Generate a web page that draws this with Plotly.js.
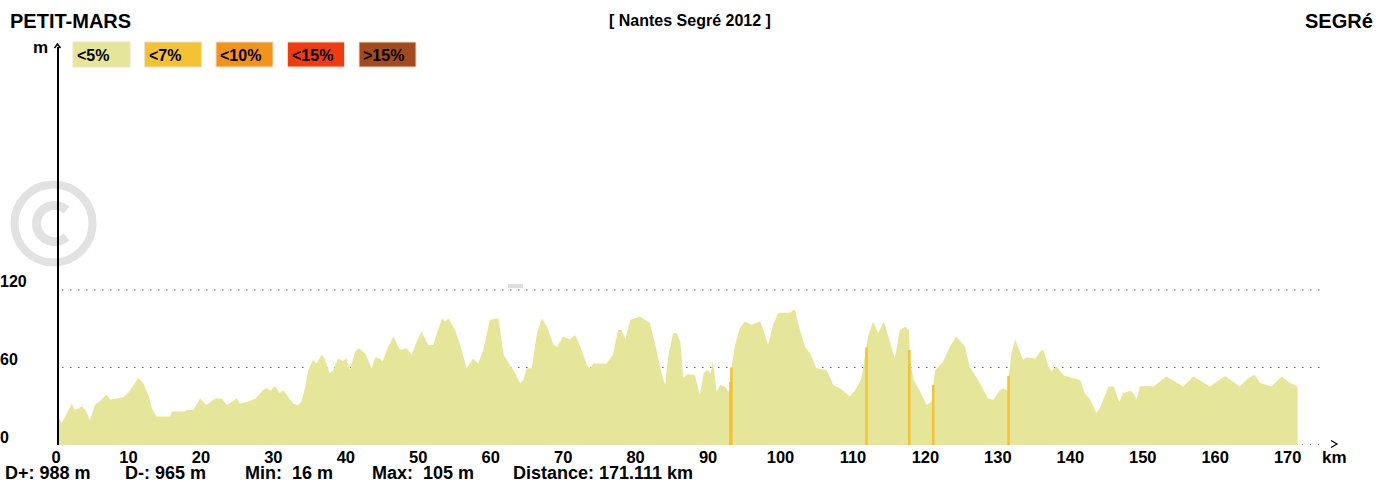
<!DOCTYPE html>
<html>
<head>
<meta charset="utf-8">
<script src="https://cdn.plot.ly/plotly-3.0.1.min.js"></script>
<style>html,body{margin:0;padding:0;background:#fff;}#chart{width:1391px;height:482px;}</style>
</head>
<body>
<div id="chart"></div>
<script>
// ---- data ----
const distKm = [0.0,0.5,1.0,1.9,2.3,2.8,3.3,3.8,4.4,5.1,5.8,6.7,7.2,8.0,9.0,9.8,10.5,11.1,11.8,12.5,13.0,13.6,15.5,15.7,17.5,17.8,18.7,19.6,20.5,21.7,22.6,23.3,24.7,25.1,26.3,27.3,28.3,28.8,29.3,29.95,30.6,31.1,31.8,32.5,33.2,33.6,34.1,34.5,35.2,35.7,36.4,36.8,37.5,38.0,38.7,39.3,39.8,40.3,41.0,41.5,42.4,43.3,43.8,44.4,44.8,45.5,46.3,47.2,48.1,48.8,49.5,50.2,51.1,51.8,52.3,53.0,53.4,53.9,54.8,55.5,56.4,57.3,58.0,58.7,59.6,60.8,61.5,62.4,63.1,63.8,64.2,64.7,65.4,66.1,66.8,67.5,68.4,68.9,69.7,70.1,70.6,71.4,72.0,73.0,73.4,73.9,75.7,76.6,77.3,77.8,78.3,79.0,80.3,81.7,82.4,83.3,83.8,84.2,84.9,85.4,85.9,86.3,86.9,87.9,88.6,89.1,89.6,90.1,90.4,90.9,91.4,92.1,92.7,92.85,93.0,93.4,94.1,94.8,95.7,96.9,97.3,98.0,98.7,99.4,101.0,101.7,102.2,103.1,103.8,104.7,106.1,107.0,107.9,109.3,110.2,110.9,111.6,111.8,112.5,113.2,114.0,114.8,115.5,116.2,116.9,117.45,117.6,118.1,119.0,119.9,120.6,120.8,121.1,122.2,123.1,124.0,125.2,125.8,127.0,128.4,129.1,130.0,130.6,131.0,131.25,131.6,132.1,132.8,133.2,133.7,134.9,135.5,136.0,136.7,137.1,137.8,138.8,140.1,141.1,141.7,142.4,143.3,143.8,145.0,145.7,146.5,147.0,148.0,148.4,148.9,149.3,150.2,151.2,153.0,155.3,156.7,159.0,161.1,163.1,164.3,165.2,165.9,167.5,168.9,169.8,171.1];
const elevM = [22,17,22,32,27,28,30,27,19,31,34,39,35,36,37,41,47,52,47.5,38,28,22,22,26,26,27,27,36,31,36,36,31,36,32,33.6,36,42.6,44,42,45.5,40.3,42.6,37,32,31,33.6,44,57,66,63,70,67,55.6,58,67,65,67,58,72,75,71,59.3,68,67,64.6,75,84,73.6,75,69.8,80,87.8,77.5,77.5,86.6,98.2,95.6,98,89,77.5,59.4,67,63,73.6,97,98,69.8,62,55.6,47.8,50,59.4,59.4,86.6,98,91.6,77.5,76,84,83,81.6,85,77.5,62,59.4,63,63,69.8,89,89,81.6,97,99.5,94.4,78.8,55.6,46.5,68,86.6,86.6,80,52,55,54,38.8,55.6,58,55.6,64.6,41.4,46.5,45,40,49,61,76,90.4,95.6,93,95.6,90.4,77.5,93,102,102.6,105,93,76,71,59.4,58,46.5,44,37.5,44,51.7,76,84,95.6,86.6,95.6,80,67,89,91.6,89,66,50.4,41.4,31,33.6,47,58,64.6,76,84,76,61,50.4,36,34.9,42.6,44,42,54,71,81.6,72,66,68,67,72,74,61,57,61,54,51.7,50.4,40,36,25,28.4,45.2,45.2,33,40,42,40,35.5,45.2,45.7,45.2,53,45.2,53,45.2,53.5,45.2,51.7,54.3,48,45.2,53,49,45];

// steeper (<7%) segments
const steepKm  = [92.8, 92.95, 111.6, 117.5, 120.8, 131.2];
const steepTop = [49, 60, 75.7, 73.6, 46.5, 53.5];

// gradient legend
const gradeLabels = ['<5%','<7%','<10%','<15%','>15%'];
const gradeColors = ['#E6E69A','#F4C232','#F4931A','#EE3B12','#A24B1F'];

// axis ticks
const xTickVals = [0,10,20,30,40,50,60,70,80,90,100,110,120,130,140,150,160,170];
const yTickVals = [0,60,120];

// texts
const startName = 'PETIT-MARS';
const endName = 'SEGRé';
const raceTitle = '[ Nantes Segré 2012 ]';
const statLabels = ['D+: 988 m','D-: 965 m','Min:  16 m','Max:  105 m','Distance: 171.111 km'];

// ---- layout helpers (pixel -> paper) ----
const W = 1391, H = 482, L = 58, R = 1335, T = 45, B = 445;
const ax = px => (px - L) / (R - L);
const ay = py => (B - py) / (B - T);
const FONT = 'Liberation Sans, Arial, sans-serif';
const kmPerPx = 1 / 7.245;
const mPerPx = 1 / 1.2917;

// traces
const profile = {
  type: 'scatter', mode: 'lines', x: distKm, y: elevM,
  fill: 'tozeroy', fillcolor: gradeColors[0],
  line: {width: 0, color: gradeColors[0]}, hoverinfo: 'skip'
};
const sx = [], sy = [];
steepKm.forEach((k, i) => { sx.push(k, k, null); sy.push(0, steepTop[i], null); });
const steep = {
  type: 'scatter', mode: 'lines', x: sx, y: sy,
  line: {width: 2.5, color: gradeColors[1]}, hoverinfo: 'skip'
};

// shapes
const shapes = [];
const xEnd = distKm[distKm.length - 1];
[60, 120].forEach(v => shapes.push({
  type: 'line', xref: 'x', yref: 'y', x0: 0.6, x1: 175.0, y0: v, y1: v,
  line: {color: '#222', width: 1, dash: '1px,7px'}, layer: 'below'
}));
shapes.push({type: 'line', xref: 'x', yref: 'y', x0: xEnd + 0.6, x1: 175.0, y0: 0, y1: 0,
  line: {color: '#222', width: 1, dash: '1px,7px'}, layer: 'below'});
// copyright watermark
const cx = 53.5, cy = 223.5;
shapes.push({type: 'circle', xref: 'paper', yref: 'paper', x0: ax(cx - 39), x1: ax(cx + 39),
  y0: ay(cy + 39), y1: ay(cy - 39), line: {color: '#E2E2E2', width: 8}, layer: 'below'});
let cpath = '';
for (let a = 48; a <= 312; a += 6) {
  const r = a * Math.PI / 180;
  const px = cx + 1 + 18 * Math.cos(r), py = cy - 18 * Math.sin(r);
  cpath += (cpath ? ' L ' : 'M ') + ax(px).toFixed(5) + ',' + ay(py).toFixed(5);
}
shapes.push({type: 'path', xref: 'paper', yref: 'paper', path: cpath,
  line: {color: '#E2E2E2', width: 9}, layer: 'below'});
// small grey mark
shapes.push({type: 'rect', xref: 'paper', yref: 'paper', x0: ax(508), x1: ax(523), y0: ay(288), y1: ay(284),
  fillcolor: '#DDDDDD', line: {width: 0}, layer: 'below'});
// vertical axis line + arrowheads
shapes.push({type: 'line', xref: 'paper', yref: 'paper', x0: 0, x1: 0, y0: 0, y1: ay(47),
  line: {color: '#000', width: 2}});
const pPath = pts => pts.map((p, i) => (i ? 'L ' : 'M ') + ax(p[0]).toFixed(5) + ',' + ay(p[1]).toFixed(5)).join(' ');
shapes.push({type: 'path', xref: 'paper', yref: 'paper', path: pPath([[54.5, 48], [57.5, 44], [60.5, 48]]),
  line: {color: '#000', width: 1.5}});
shapes.push({type: 'path', xref: 'paper', yref: 'paper', path: pPath([[1331, 440.5], [1337, 444], [1331, 447.5]]),
  line: {color: '#000', width: 1.2}});

const annotations = [];
const txt = (text, px, py, size, anchor, extra) => annotations.push(Object.assign({
  text: text, xref: 'paper', yref: 'paper', x: ax(px), y: ay(py),
  xanchor: anchor || 'left', yanchor: 'middle', showarrow: false,
  font: {family: FONT, size: size, color: '#000', weight: 'bold'}
}, extra || {}));

// legend boxes
gradeLabels.forEach((lab, i) => {
  const x0 = 73 + i * 71.5;
  shapes.push({type: 'rect', xref: 'paper', yref: 'paper', x0: ax(x0), x1: ax(x0 + 57),
    y0: ay(67), y1: ay(42), fillcolor: gradeColors[i], line: {color: '#F3E0C8', width: 1}});
  txt(lab, x0 + 2, 55, 16, 'left');
});

txt(startName, 8, 21, 20, 'left');
txt(raceTitle, 690, 20, 16, 'center');
txt(endName, 1375, 21, 20, 'right');
txt('m', 31, 48, 17, 'left');
yTickVals.forEach(v => txt(String(v), -2, B - v * 1.2917 - 8, 16, 'left'));
txt('km', 1320, 457, 17, 'left');
const statX = [3, 123, 243, 370, 511];
statLabels.forEach((s, i) => txt(s.replace(/ /g, '\u00a0'), statX[i], 473, 18, 'left'));

const layout = {
  width: W, height: H,
  margin: {l: L, r: W - R, t: T, b: H - B, pad: 0},
  paper_bgcolor: '#fff', plot_bgcolor: '#fff',
  showlegend: false, hovermode: false,
  xaxis: {
    range: [0, (R - L) * kmPerPx], showgrid: false, zeroline: false, showline: false,
    tickmode: 'array', tickvals: xTickVals, ticktext: xTickVals.map(String),
    ticks: '', ticklabelshift: -2, ticklabelstandoff: 0,
    tickfont: {family: FONT, size: 16.5, color: '#000', weight: 'bold'}, fixedrange: true
  },
  yaxis: {
    range: [0, (B - T) * mPerPx], showgrid: false, zeroline: false,
    showline: false, showticklabels: false, ticks: '', fixedrange: true
  },
  shapes: shapes, annotations: annotations
};

Plotly.newPlot('chart', [profile, steep], layout, {displayModeBar: false, staticPlot: true});
</script>
</body>
</html>
